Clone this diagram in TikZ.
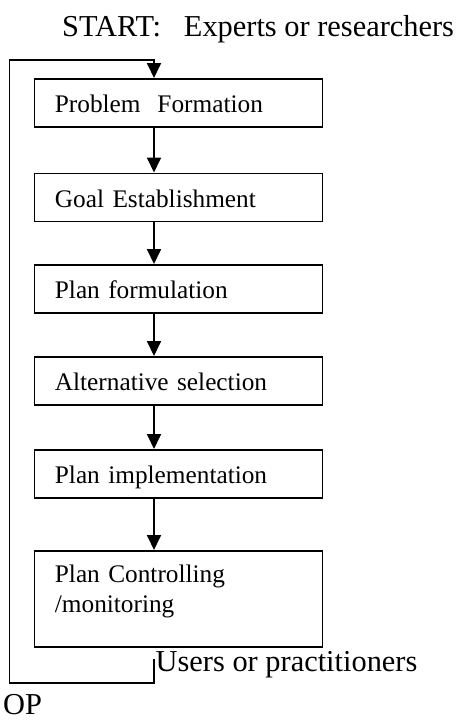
\documentclass[tikz,border=0pt]{standalone}
\usepackage{fontspec}
\setmainfont{Liberation Serif}
\usetikzlibrary{arrows.meta}
\begin{document}
\begin{tikzpicture}[x=1pt,y=-1pt,
  stage/.style={draw,line width=1.8pt,anchor=north west,minimum width=288pt,
    minimum height=48pt,inner xsep=20.5pt,inner ysep=0pt,text width=247pt,align=left,
    font=\fontsize{25.3}{29.3}\selectfont,text height=22pt,text depth=2pt},
  flow/.style={line width=1.8pt,-{Triangle[width=14pt,length=15pt]}},
  big/.style={font=\fontsize{30.4}{35}\selectfont,inner sep=0pt}]
\useasboundingbox (0,0) rectangle (467,724);
\node[big,anchor=base west] (start) at (62,36) {START:\ \ \ Experts or researchers};
\node[stage] (b1) at (33.5,78) {Problem\ \ Formation};
\node[stage] (b2) at (33.5,172.5) {Goal Establishment};
\node[stage] (b3) at (33.5,264) {Plan formulation};
\node[stage] (b4) at (33.5,356) {Alternative selection};
\node[stage] (b5) at (33.5,449) {Plan implementation};
\node[stage,minimum height=96pt,text height=18pt,text depth=50pt] (b6) at (33.5,550) {Plan Controlling\\/monitoring};
\node[big,anchor=base west] (users) at (155.5,671.5) {Users or practitioners};
\node[big,anchor=base west] (stop) at (3,714) {OP};
\coordinate (ls) at (154,659);
\coordinate (lb) at (154,683);
\coordinate (lt) at (154,60);
\draw[flow] (ls) -- (lb) -- (9.5,683) -- (9.5,60) -- (lt) -- (b1.north west -| lt);
\draw[flow] (b1.south west -| lt) -- (b2.north west -| lt);
\draw[flow] (b2.south west -| lt) -- (b3.north west -| lt);
\draw[flow] (b3.south west -| lt) -- (b4.north west -| lt);
\draw[flow] (b4.south west -| lt) -- (b5.north west -| lt);
\draw[flow] (b5.south west -| lt) -- (b6.north west -| lt);
\end{tikzpicture}
\end{document}
